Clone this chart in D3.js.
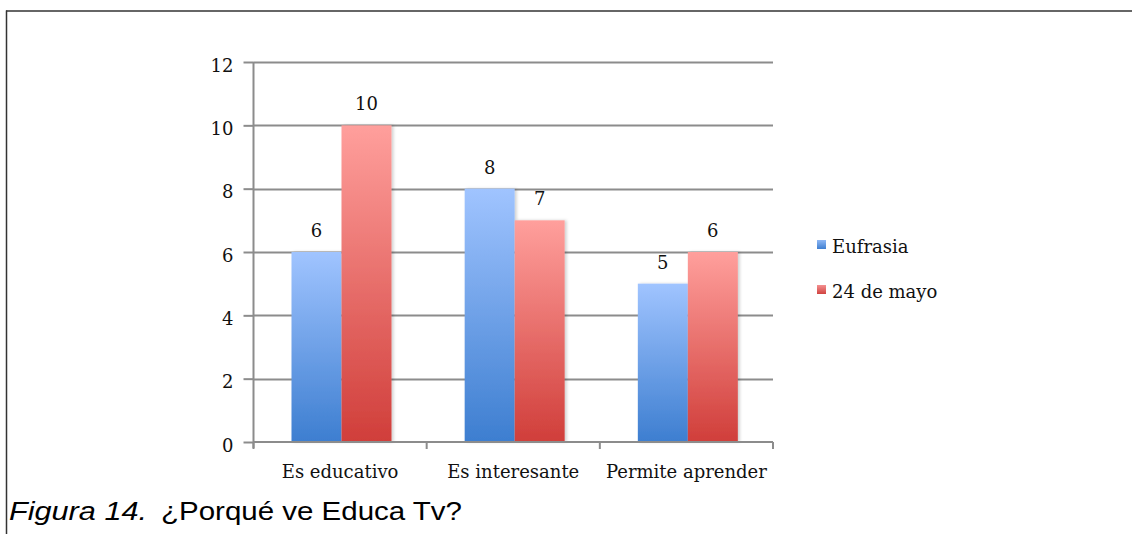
<!DOCTYPE html>
<html><head><meta charset="utf-8">
<script src="https://cdn.jsdelivr.net/npm/d3@7"></script>
<style>body{margin:0;background:#fff}svg{display:block}</style>
</head><body>
<script>
const categories = ["Es educativo", "Es interesante", "Permite aprender"];
const seriesNames = ["Eufrasia", "24 de mayo"];
const eufrasia = [6, 8, 5];
const mayo24 = [10, 7, 6];
const yTicks = [0, 2, 4, 6, 8, 10, 12];
const captionLabel = "Figura 14.";
const captionText = "¿Porqué ve Educa Tv?";

const W = 1132, H = 534;
const svg = d3.select("body").append("svg").attr("width", W).attr("height", H);
const defs = svg.append("defs");
const grads = [
  {id: "gBlue", top: "#a0c4ff", bot: "#3d7ed0"},
  {id: "gRed", top: "#ff9f9c", bot: "#d03e3a"}
];
grads.forEach(g => {
  const lg = defs.append("linearGradient").attr("id", g.id).attr("x1", 0).attr("y1", 0).attr("x2", 0).attr("y2", 1);
  lg.append("stop").attr("offset", "0%").attr("stop-color", g.top);
  lg.append("stop").attr("offset", "100%").attr("stop-color", g.bot);
});
const lgBlue = defs.append("linearGradient").attr("id", "lBlue").attr("x1",0).attr("y1",0).attr("x2",0).attr("y2",1);
lgBlue.append("stop").attr("offset","0%").attr("stop-color","#8fb8f5");
lgBlue.append("stop").attr("offset","100%").attr("stop-color","#3f7fd0");
const lgRed = defs.append("linearGradient").attr("id", "lRed").attr("x1",0).attr("y1",0).attr("x2",0).attr("y2",1);
lgRed.append("stop").attr("offset","0%").attr("stop-color","#f49090");
lgRed.append("stop").attr("offset","100%").attr("stop-color","#d04340");
const flt = defs.append("filter").attr("id","sh").attr("x","-20%").attr("y","-5%").attr("width","150%").attr("height","110%");
flt.append("feDropShadow").attr("dx",2).attr("dy",0).attr("stdDeviation",1.5).attr("flood-color","#000").attr("flood-opacity",0.18);

// frame
svg.append("line").attr("x1", 6).attr("x2", W).attr("y1", 11).attr("y2", 11).attr("stroke", "#333").attr("stroke-width", 1.5);
svg.append("line").attr("x1", 6.5).attr("x2", 6.5).attr("y1", 10.5).attr("y2", H).attr("stroke", "#333").attr("stroke-width", 1.5);

const x0 = 253.5, x1 = 773, y0 = 442, y1 = 62;
const x = d3.scaleBand().domain(categories).range([x0, x1]);
const y = d3.scaleLinear().domain([0, 12]).range([y0, y1]);
const inner = d3.scaleBand().domain(seriesNames).range([38, 138]);

const serif = "'DejaVu Serif', 'Liberation Serif', serif";
const fs = 18;

// gridlines
svg.append("g").selectAll("line").data(yTicks.filter(d => d > 0)).join("line")
  .attr("x1", x0).attr("x2", x1).attr("y1", d => Math.round(y(d)) + 0.5).attr("y2", d => Math.round(y(d)) + 0.5)
  .attr("stroke", "#8c8c8c").attr("stroke-width", 2);

// bars
const data = categories.map((c, i) => [
  {cat: c, s: seriesNames[0], v: eufrasia[i], fill: "url(#gBlue)"},
  {cat: c, s: seriesNames[1], v: mayo24[i], fill: "url(#gRed)"}
]).flat();
svg.append("g").selectAll("rect").data(data).join("rect")
  .attr("x", d => x(d.cat) + inner(d.s))
  .attr("y", d => y(d.v))
  .attr("width", inner.bandwidth())
  .attr("height", d => y0 - y(d.v))
  .attr("fill", d => d.fill)
  .attr("filter", "url(#sh)");

// value labels
svg.append("g").selectAll("text").data(data).join("text")
  .attr("x", d => x(d.cat) + inner(d.s) + inner.bandwidth() / 2)
  .attr("y", d => y(d.v) - 15)
  .attr("text-anchor", "middle")
  .attr("font-family", serif).attr("font-size", fs).attr("fill", "#111")
  .text(d => d.v);

// y axis
const yAxis = d3.axisLeft(y).tickValues(yTicks).tickSize(10).tickPadding(10).tickFormat(d3.format("d"));
const gy = svg.append("g").attr("transform", `translate(${x0},0)`).call(yAxis);
gy.select(".domain").attr("stroke", "#8c8c8c").attr("stroke-width", 2).attr("d", `M0,${y1}V${y0 + 6}`);
gy.selectAll(".tick line").attr("stroke", "#8c8c8c").attr("stroke-width", 2).attr("x1", -10).attr("x2", 0);
gy.selectAll(".tick text").attr("font-family", serif).attr("font-size", fs).attr("fill", "#111").attr("dy", "0.5em");

// x axis
const xAxis = d3.axisBottom(x).tickSize(0).tickPadding(0);
const gx = svg.append("g").attr("transform", `translate(0,${y0})`).call(xAxis);
gx.select(".domain").attr("stroke", "#8c8c8c").attr("stroke-width", 2).attr("d", `M${x0},0H${x1}`);
gx.selectAll(".tick text").attr("font-family", serif).attr("font-size", fs).attr("fill", "#111").attr("y", 36).attr("dy", 0);
const bounds = [...categories.map(c => x(c)), x1];
gx.append("g").selectAll("line").data(bounds).join("line")
  .attr("x1", d => d).attr("x2", d => d).attr("y1", 0).attr("y2", 7)
  .attr("stroke", "#8c8c8c").attr("stroke-width", 2);

// legend
const leg = svg.append("g").attr("transform", "translate(817,240)");
seriesNames.forEach((s, i) => {
  const g = leg.append("g").attr("transform", `translate(0,${i * 45})`);
  g.append("rect").attr("width", 9).attr("height", 9).attr("fill", i === 0 ? "url(#lBlue)" : "url(#lRed)");
  g.append("text").attr("x", 15).attr("y", 13).attr("font-family", serif).attr("font-size", fs).attr("fill", "#111").text(s);
});

// caption
const capFont = "'Liberation Sans', Arial, sans-serif";
svg.append("text").attr("x", 9).attr("y", 520).attr("font-family", capFont).attr("font-size", 25)
  .attr("font-style", "italic").attr("textLength", 138).attr("lengthAdjust", "spacingAndGlyphs").text(captionLabel);
svg.append("text").attr("x", 161).attr("y", 520).attr("font-family", capFont).attr("font-size", 25)
  .attr("textLength", 301).attr("lengthAdjust", "spacingAndGlyphs").text(captionText);
</script>
</body></html>
